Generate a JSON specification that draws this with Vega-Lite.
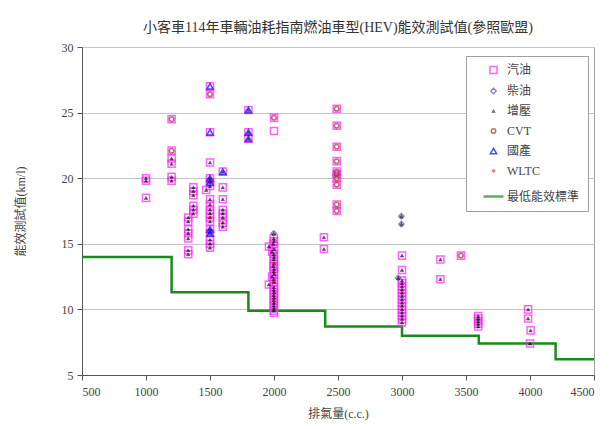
{
  "$schema": "https://vega.github.io/schema/vega-lite/v6.json",
  "width": 512,
  "height": 328,
  "autosize": {"type": "none"},
  "padding": {"left": 82, "top": 47, "right": 17, "bottom": 54},
  "background": "white",
  "title": {"text": "小客車114年車輛油耗指南燃油車型(HEV)能效測試值(參照歐盟)", "fontSize": 14, "font": "Liberation Serif, Noto Sans CJK TC", "fontWeight": "normal", "color": "#333333", "offset": 6},
  "config": {
    "view": {"stroke": "#a0a0a0"},
    "legend": {"orient": "none", "legendX": 384, "legendY": 9, "fillColor": "white", "strokeColor": "#a0a0a0", "padding": 8, "symbolOffset": 8, "labelOffset": 2, "rowPadding": 8, "labelFont": "Liberation Serif, Noto Sans CJK TC", "labelFontSize": 12, "labelColor": "#444444"},
    "axis": {"labelFont": "Liberation Serif, Noto Sans CJK TC", "titleFont": "Liberation Serif, Noto Sans CJK TC", "labelFontSize": 12, "titleFontSize": 12, "labelColor": "#444444", "titleColor": "#444444", "titleFontWeight": "normal", "domainColor": "#555555", "tickColor": "#555555"}
  },
  "datasets": {
    "std": [
      {"c": 500, "v": 14.0}, {"c": 1200, "v": 11.3}, {"c": 1800, "v": 9.9}, {"c": 2400, "v": 8.7},
      {"c": 3000, "v": 8.0}, {"c": 3600, "v": 7.4}, {"c": 4200, "v": 6.2}, {"c": 4500, "v": 6.2}
    ],
    "pts": [
      {"c": 1000, "v": 20.0, "s": "汽油"}, {"c": 1000, "v": 19.8, "s": "汽油"}, {"c": 1000, "v": 18.5, "s": "汽油"},
      {"c": 1200, "v": 24.5, "s": "汽油"}, {"c": 1200, "v": 22.1, "s": "汽油"}, {"c": 1200, "v": 21.5, "s": "汽油"}, {"c": 1200, "v": 21.1, "s": "汽油"}, {"c": 1200, "v": 20.1, "s": "汽油"}, {"c": 1200, "v": 19.8, "s": "汽油"},
      {"c": 1330, "v": 17.0, "s": "汽油"}, {"c": 1330, "v": 16.7, "s": "汽油"}, {"c": 1330, "v": 16.1, "s": "汽油"}, {"c": 1330, "v": 15.8, "s": "汽油"}, {"c": 1330, "v": 15.4, "s": "汽油"}, {"c": 1330, "v": 14.5, "s": "汽油"}, {"c": 1330, "v": 14.2, "s": "汽油"},
      {"c": 1370, "v": 19.3, "s": "汽油"}, {"c": 1370, "v": 19.0, "s": "汽油"}, {"c": 1370, "v": 18.7, "s": "汽油"}, {"c": 1370, "v": 17.9, "s": "汽油"}, {"c": 1370, "v": 17.6, "s": "汽油"}, {"c": 1370, "v": 17.3, "s": "汽油"},
      {"c": 1500, "v": 27.0, "s": "汽油"}, {"c": 1500, "v": 26.4, "s": "汽油"}, {"c": 1500, "v": 23.5, "s": "汽油"}, {"c": 1500, "v": 21.2, "s": "汽油"}, {"c": 1500, "v": 20.0, "s": "汽油"}, {"c": 1500, "v": 19.7, "s": "汽油"}, {"c": 1500, "v": 19.4, "s": "汽油"}, {"c": 1470, "v": 19.1, "s": "汽油"}, {"c": 1500, "v": 18.4, "s": "汽油"}, {"c": 1500, "v": 18.0, "s": "汽油"}, {"c": 1500, "v": 17.6, "s": "汽油"}, {"c": 1500, "v": 17.3, "s": "汽油"}, {"c": 1500, "v": 17.0, "s": "汽油"}, {"c": 1500, "v": 16.7, "s": "汽油"}, {"c": 1500, "v": 16.1, "s": "汽油"}, {"c": 1500, "v": 15.8, "s": "汽油"}, {"c": 1500, "v": 15.3, "s": "汽油"}, {"c": 1500, "v": 15.0, "s": "汽油"}, {"c": 1500, "v": 14.7, "s": "汽油"},
      {"c": 1600, "v": 20.5, "s": "汽油"}, {"c": 1600, "v": 19.3, "s": "汽油"}, {"c": 1600, "v": 18.4, "s": "汽油"}, {"c": 1600, "v": 17.6, "s": "汽油"}, {"c": 1600, "v": 17.3, "s": "汽油"}, {"c": 1600, "v": 17.0, "s": "汽油"}, {"c": 1600, "v": 16.6, "s": "汽油"}, {"c": 1600, "v": 16.3, "s": "汽油"},
      {"c": 1800, "v": 25.2, "s": "汽油"}, {"c": 1800, "v": 23.5, "s": "汽油"}, {"c": 1800, "v": 23.0, "s": "汽油"},
      {"c": 2000, "v": 24.6, "s": "汽油"}, {"c": 2000, "v": 23.6, "s": "汽油"},
      {"c": 1998, "v": 15.4, "s": "汽油"}, {"c": 2000, "v": 15.2, "s": "汽油"}, {"c": 1995, "v": 15.0, "s": "汽油"}, {"c": 1960, "v": 14.8, "s": "汽油"}, {"c": 2000, "v": 14.6, "s": "汽油"}, {"c": 1985, "v": 14.4, "s": "汽油"}, {"c": 1998, "v": 14.2, "s": "汽油"}, {"c": 2000, "v": 14.0, "s": "汽油"}, {"c": 1998, "v": 13.8, "s": "汽油"}, {"c": 2000, "v": 13.5, "s": "汽油"}, {"c": 1995, "v": 13.3, "s": "汽油"}, {"c": 2000, "v": 13.1, "s": "汽油"}, {"c": 1998, "v": 12.9, "s": "汽油"}, {"c": 2000, "v": 12.7, "s": "汽油"}, {"c": 1985, "v": 12.5, "s": "汽油"}, {"c": 1998, "v": 12.3, "s": "汽油"}, {"c": 2000, "v": 12.1, "s": "汽油"}, {"c": 1960, "v": 11.9, "s": "汽油"}, {"c": 2000, "v": 11.7, "s": "汽油"}, {"c": 1998, "v": 11.5, "s": "汽油"}, {"c": 2000, "v": 11.3, "s": "汽油"}, {"c": 1998, "v": 11.1, "s": "汽油"}, {"c": 2000, "v": 10.9, "s": "汽油"}, {"c": 1998, "v": 10.7, "s": "汽油"}, {"c": 2000, "v": 10.5, "s": "汽油"}, {"c": 1998, "v": 10.3, "s": "汽油"}, {"c": 2000, "v": 10.1, "s": "汽油"}, {"c": 1998, "v": 9.9, "s": "汽油"}, {"c": 2000, "v": 9.75, "s": "汽油"},
      {"c": 2390, "v": 15.5, "s": "汽油"}, {"c": 2390, "v": 14.6, "s": "汽油"},
      {"c": 2490, "v": 25.3, "s": "汽油"}, {"c": 2490, "v": 24.0, "s": "汽油"}, {"c": 2490, "v": 22.4, "s": "汽油"}, {"c": 2490, "v": 21.3, "s": "汽油"}, {"c": 2490, "v": 20.5, "s": "汽油"}, {"c": 2490, "v": 20.3, "s": "汽油"}, {"c": 2490, "v": 20.0, "s": "汽油"}, {"c": 2490, "v": 19.5, "s": "汽油"}, {"c": 2490, "v": 18.0, "s": "汽油"}, {"c": 2490, "v": 17.5, "s": "汽油"},
      {"c": 3000, "v": 14.1, "s": "汽油"}, {"c": 3000, "v": 13.0, "s": "汽油"}, {"c": 3000, "v": 12.2, "s": "汽油"}, {"c": 3000, "v": 12.0, "s": "汽油"}, {"c": 3000, "v": 11.75, "s": "汽油"}, {"c": 3000, "v": 11.5, "s": "汽油"}, {"c": 3000, "v": 11.25, "s": "汽油"}, {"c": 3000, "v": 11.0, "s": "汽油"}, {"c": 3000, "v": 10.75, "s": "汽油"}, {"c": 3000, "v": 10.5, "s": "汽油"}, {"c": 3000, "v": 10.25, "s": "汽油"}, {"c": 3000, "v": 10.0, "s": "汽油"}, {"c": 3000, "v": 9.75, "s": "汽油"}, {"c": 3000, "v": 9.5, "s": "汽油"}, {"c": 3000, "v": 9.25, "s": "汽油"}, {"c": 3000, "v": 9.0, "s": "汽油"},
      {"c": 3300, "v": 13.8, "s": "汽油"}, {"c": 3300, "v": 12.3, "s": "汽油"}, {"c": 3460, "v": 14.1, "s": "汽油"},
      {"c": 3595, "v": 9.5, "s": "汽油"}, {"c": 3595, "v": 9.3, "s": "汽油"}, {"c": 3595, "v": 9.1, "s": "汽油"}, {"c": 3595, "v": 8.9, "s": "汽油"}, {"c": 3595, "v": 8.7, "s": "汽油"},
      {"c": 3985, "v": 10.0, "s": "汽油"}, {"c": 3985, "v": 9.3, "s": "汽油"}, {"c": 4005, "v": 8.4, "s": "汽油"}, {"c": 4000, "v": 7.4, "s": "汽油"},

      {"c": 1998, "v": 15.8, "s": "柴油"}, {"c": 2995, "v": 17.1, "s": "柴油"}, {"c": 2995, "v": 16.5, "s": "柴油"}, {"c": 2970, "v": 12.4, "s": "柴油"},

      {"c": 1000, "v": 20.0, "s": "增壓"}, {"c": 1000, "v": 19.8, "s": "增壓"}, {"c": 1000, "v": 18.5, "s": "增壓"},
      {"c": 1200, "v": 21.5, "s": "增壓"}, {"c": 1200, "v": 21.1, "s": "增壓"}, {"c": 1200, "v": 20.1, "s": "增壓"}, {"c": 1200, "v": 19.8, "s": "增壓"},
      {"c": 1330, "v": 17.0, "s": "增壓"}, {"c": 1330, "v": 16.7, "s": "增壓"}, {"c": 1330, "v": 16.1, "s": "增壓"}, {"c": 1330, "v": 15.8, "s": "增壓"}, {"c": 1330, "v": 15.4, "s": "增壓"}, {"c": 1330, "v": 14.5, "s": "增壓"}, {"c": 1330, "v": 14.2, "s": "增壓"},
      {"c": 1370, "v": 19.3, "s": "增壓"}, {"c": 1370, "v": 19.0, "s": "增壓"}, {"c": 1370, "v": 18.7, "s": "增壓"}, {"c": 1370, "v": 17.9, "s": "增壓"}, {"c": 1370, "v": 17.6, "s": "增壓"}, {"c": 1370, "v": 17.3, "s": "增壓"},
      {"c": 1500, "v": 21.2, "s": "增壓"}, {"c": 1500, "v": 20.0, "s": "增壓"}, {"c": 1500, "v": 19.7, "s": "增壓"}, {"c": 1500, "v": 19.4, "s": "增壓"}, {"c": 1470, "v": 19.1, "s": "增壓"}, {"c": 1500, "v": 18.4, "s": "增壓"}, {"c": 1500, "v": 18.0, "s": "增壓"}, {"c": 1500, "v": 17.6, "s": "增壓"}, {"c": 1500, "v": 17.3, "s": "增壓"}, {"c": 1500, "v": 17.0, "s": "增壓"}, {"c": 1500, "v": 16.7, "s": "增壓"}, {"c": 1500, "v": 16.1, "s": "增壓"}, {"c": 1500, "v": 15.8, "s": "增壓"}, {"c": 1500, "v": 15.3, "s": "增壓"}, {"c": 1500, "v": 15.0, "s": "增壓"}, {"c": 1500, "v": 14.7, "s": "增壓"},
      {"c": 1600, "v": 20.5, "s": "增壓"}, {"c": 1600, "v": 19.3, "s": "增壓"}, {"c": 1600, "v": 18.4, "s": "增壓"}, {"c": 1600, "v": 17.6, "s": "增壓"}, {"c": 1600, "v": 17.3, "s": "增壓"}, {"c": 1600, "v": 17.0, "s": "增壓"}, {"c": 1600, "v": 16.6, "s": "增壓"}, {"c": 1600, "v": 16.3, "s": "增壓"},
      {"c": 1800, "v": 25.2, "s": "增壓"}, {"c": 1800, "v": 23.5, "s": "增壓"}, {"c": 1800, "v": 23.0, "s": "增壓"},
      {"c": 1998, "v": 15.4, "s": "增壓"}, {"c": 2000, "v": 15.2, "s": "增壓"}, {"c": 1995, "v": 15.0, "s": "增壓"}, {"c": 1960, "v": 14.8, "s": "增壓"}, {"c": 2000, "v": 14.6, "s": "增壓"}, {"c": 1985, "v": 14.4, "s": "增壓"}, {"c": 1998, "v": 14.2, "s": "增壓"}, {"c": 2000, "v": 14.0, "s": "增壓"}, {"c": 1998, "v": 13.8, "s": "增壓"}, {"c": 2000, "v": 13.5, "s": "增壓"}, {"c": 1995, "v": 13.3, "s": "增壓"}, {"c": 2000, "v": 13.1, "s": "增壓"}, {"c": 1998, "v": 12.9, "s": "增壓"}, {"c": 2000, "v": 12.7, "s": "增壓"}, {"c": 1985, "v": 12.5, "s": "增壓"}, {"c": 1998, "v": 12.3, "s": "增壓"}, {"c": 2000, "v": 12.1, "s": "增壓"}, {"c": 1960, "v": 11.9, "s": "增壓"}, {"c": 2000, "v": 11.7, "s": "增壓"}, {"c": 1998, "v": 11.5, "s": "增壓"}, {"c": 2000, "v": 11.3, "s": "增壓"}, {"c": 1998, "v": 11.1, "s": "增壓"}, {"c": 2000, "v": 10.9, "s": "增壓"}, {"c": 1998, "v": 10.7, "s": "增壓"}, {"c": 2000, "v": 10.5, "s": "增壓"}, {"c": 1998, "v": 10.3, "s": "增壓"}, {"c": 2000, "v": 10.1, "s": "增壓"}, {"c": 1998, "v": 9.9, "s": "增壓"},
      {"c": 2390, "v": 15.5, "s": "增壓"}, {"c": 2390, "v": 14.6, "s": "增壓"},
      {"c": 3000, "v": 14.1, "s": "增壓"}, {"c": 3000, "v": 13.0, "s": "增壓"}, {"c": 3000, "v": 12.2, "s": "增壓"}, {"c": 3000, "v": 12.0, "s": "增壓"}, {"c": 3000, "v": 11.75, "s": "增壓"}, {"c": 3000, "v": 11.5, "s": "增壓"}, {"c": 3000, "v": 11.25, "s": "增壓"}, {"c": 3000, "v": 11.0, "s": "增壓"}, {"c": 3000, "v": 10.75, "s": "增壓"}, {"c": 3000, "v": 10.5, "s": "增壓"}, {"c": 3000, "v": 10.25, "s": "增壓"}, {"c": 3000, "v": 10.0, "s": "增壓"}, {"c": 3000, "v": 9.75, "s": "增壓"}, {"c": 3000, "v": 9.5, "s": "增壓"}, {"c": 3000, "v": 9.25, "s": "增壓"}, {"c": 3000, "v": 9.0, "s": "增壓"},
      {"c": 3300, "v": 13.8, "s": "增壓"}, {"c": 3300, "v": 12.3, "s": "增壓"},
      {"c": 3595, "v": 9.5, "s": "增壓"}, {"c": 3595, "v": 9.3, "s": "增壓"}, {"c": 3595, "v": 9.1, "s": "增壓"}, {"c": 3595, "v": 8.9, "s": "增壓"}, {"c": 3595, "v": 8.7, "s": "增壓"},
      {"c": 3985, "v": 10.0, "s": "增壓"}, {"c": 3985, "v": 9.3, "s": "增壓"}, {"c": 4005, "v": 8.4, "s": "增壓"}, {"c": 4000, "v": 7.4, "s": "增壓"},
      {"c": 1998, "v": 15.8, "s": "增壓"}, {"c": 2995, "v": 17.1, "s": "增壓"}, {"c": 2995, "v": 16.5, "s": "增壓"}, {"c": 2970, "v": 12.4, "s": "增壓"},

      {"c": 1200, "v": 24.5, "s": "CVT"}, {"c": 1200, "v": 22.1, "s": "CVT"}, {"c": 1500, "v": 26.4, "s": "CVT"}, {"c": 2000, "v": 24.6, "s": "CVT"},
      {"c": 2490, "v": 25.3, "s": "CVT"}, {"c": 2490, "v": 24.0, "s": "CVT"}, {"c": 2490, "v": 22.4, "s": "CVT"}, {"c": 2490, "v": 21.3, "s": "CVT"}, {"c": 2490, "v": 20.5, "s": "CVT"}, {"c": 2490, "v": 20.3, "s": "CVT"}, {"c": 2490, "v": 20.0, "s": "CVT"}, {"c": 2490, "v": 19.5, "s": "CVT"}, {"c": 2490, "v": 18.0, "s": "CVT"}, {"c": 2490, "v": 17.5, "s": "CVT"},
      {"c": 3460, "v": 14.1, "s": "CVT"},

      {"c": 1500, "v": 27.0, "s": "國產"}, {"c": 1500, "v": 23.5, "s": "國產"}, {"c": 1500, "v": 20.0, "s": "國產"}, {"c": 1500, "v": 19.7, "s": "國產"}, {"c": 1500, "v": 16.1, "s": "國產"}, {"c": 1500, "v": 15.8, "s": "國產"},
      {"c": 1600, "v": 20.5, "s": "國產"}, {"c": 1800, "v": 25.2, "s": "國產"}, {"c": 1800, "v": 23.5, "s": "國產"}, {"c": 1800, "v": 23.0, "s": "國產"},

      {"c": 1500, "v": 17.0, "s": "WLTC"}, {"c": 2000, "v": 13.5, "s": "WLTC"}, {"c": 2000, "v": 12.1, "s": "WLTC"}, {"c": 1998, "v": 10.7, "s": "WLTC"}
    ]
  },
  "layer": [
    {
      "data": {"name": "std"},
      "mark": {"type": "line", "interpolate": "step-after", "color": "#1a8a1a", "strokeWidth": 2.5},
      "encoding": {
        "x": {"field": "c", "type": "quantitative", "scale": {"domain": [500, 4500], "nice": false},
          "axis": {"values": [500, 1000, 1500, 2000, 2500, 3000, 3500, 4000, 4500], "grid": false, "title": "排氣量(c.c.)", "tickSize": 5, "labelPadding": 6, "titleY": 38, "titleBaseline": "middle", "format": "d"}},
        "y": {"field": "v", "type": "quantitative", "scale": {"domain": [5, 30], "nice": false},
          "axis": {"values": [5, 7.5, 10, 12.5, 15, 17.5, 20, 22.5, 25, 27.5, 30], "labelExpr": "datum.value % 5 === 0 ? datum.label : ''", "grid": true, "gridColor": "#c4c4c4",
            "gridOpacity": {"condition": {"test": "datum.value % 5 === 0 && datum.value > 5", "value": 1}, "value": 0},
            "tickSize": {"condition": {"test": "datum.value % 5 === 0", "value": 5}, "value": 3},
            "labelPadding": 4, "title": "能效測試值(km/l)", "titleX": -62, "titleY": 164, "titleBaseline": "middle"}}
      }
    },
    {
      "data": {"name": "pts"},
      "mark": {"type": "point"},
      "encoding": {
        "x": {"field": "c", "type": "quantitative"},
        "y": {"field": "v", "type": "quantitative"},
        "shape": {"field": "s", "type": "nominal", "legend": {"title": null},
          "scale": {"domain": ["汽油", "柴油", "增壓", "CVT", "國產", "WLTC", "最低能效標準"], "range": ["square", "diamond", "triangle-up", "circle", "triangle-up", "circle", "stroke"]}},
        "stroke": {"field": "s", "type": "nominal", "legend": {"title": null},
          "scale": {"domain": ["汽油", "柴油", "增壓", "CVT", "國產", "WLTC", "最低能效標準"], "range": ["#ff22ff", "#5050a8", "#000000", "#a03030", "#0000ff", "#ff0000", "#1a8a1a"]}},
        "fill": {"field": "s", "type": "nominal", "legend": {"title": null},
          "scale": {"domain": ["汽油", "柴油", "增壓", "CVT", "國產", "WLTC", "最低能效標準"], "range": ["transparent", "transparent", "#000000", "transparent", "transparent", "#ff0000", "transparent"]}},
        "size": {"field": "s", "type": "nominal", "legend": {"title": null},
          "scale": {"type": "ordinal", "domain": ["汽油", "柴油", "增壓", "CVT", "國產", "WLTC", "最低能效標準"], "range": [50, 30, 12, 20, 40, 8, 400]}},
        "strokeWidth": {"field": "s", "type": "nominal", "legend": {"title": null},
          "scale": {"type": "ordinal", "domain": ["汽油", "柴油", "增壓", "CVT", "國產", "WLTC", "最低能效標準"], "range": [1.5, 1.3, 0.5, 1.5, 1.5, 0.5, 2.5]}}
      }
    }
  ]
}
